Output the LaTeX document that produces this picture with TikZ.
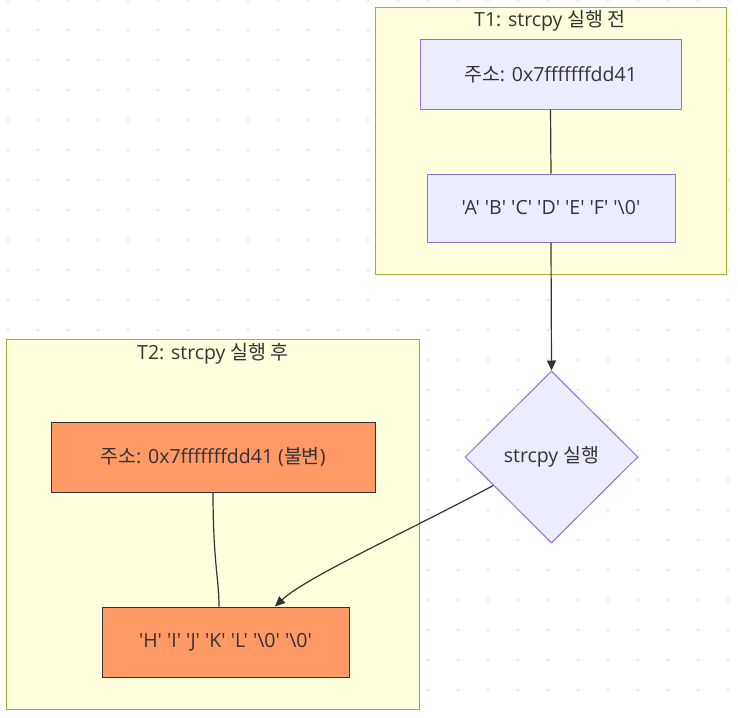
\documentclass[tikz,border=0pt]{standalone}
\usepackage{fontspec}
\setmainfont{Open Sans}[Ligatures=TeXOff]
\newfontfamily\kr{Noto Sans CJK KR}
\usetikzlibrary{shapes.geometric,arrows.meta,calc}
\definecolor{nodefill}{HTML}{ECECFF}
\definecolor{nodestroke}{HTML}{9370DB}
\definecolor{clfill}{HTML}{FFFFDE}
\definecolor{clstroke}{HTML}{AAAA33}
\definecolor{txt}{HTML}{333333}
\definecolor{orangefill}{HTML}{FF9966}
\definecolor{dotc}{HTML}{E6E6E6}
\newcommand{\qq}{\symbol{"0027}}
\tikzset{
  cluster/.style={draw=clstroke, fill=clfill, line width=1pt},
  cltitle/.style={text=txt, font=\fontsize{19.5}{23}\selectfont, inner sep=0pt},
  bluebox/.style={draw=nodestroke, fill=nodefill, line width=1pt, text=txt, font=\fontsize{19.5}{23}\selectfont, inner sep=0pt},
  orangebox/.style={draw=txt, fill=orangefill, line width=1pt, text=txt, font=\fontsize{19.5}{23}\selectfont, inner sep=0pt},
  decision/.style={diamond, aspect=1, draw=nodestroke, fill=nodefill, line width=1pt, text=txt, font=\fontsize{19.5}{23}\selectfont, inner sep=0pt, minimum width=173pt, minimum height=172pt},
  link/.style={draw=txt, line width=1.2pt},
  arrowlink/.style={link, -{Triangle[length=10pt,width=9pt]}}
}
\begin{document}
\begin{tikzpicture}[x=1pt,y=-1pt]
\useasboundingbox (0,0) rectangle (738,717);
\fill[white] (0,0) rectangle (738,717);
% background dots
\foreach \i in {0,...,24} {
  \foreach \j in {0,...,23} {
    \fill[dotc] (8+30*\i, 30*\j) circle (1.6pt);
  }
}
% clusters
\draw[cluster] (375,8) rectangle (726,274);
\node[cltitle] (t1) at (550,21) {T1: strcpy {\kr 실행 전}};
\draw[cluster] (6,339) rectangle (419,709);
\node[cltitle] (t2) at (213,354) {T2: strcpy {\kr 실행 후}};
% nodes
\node[bluebox, minimum width=261pt, minimum height=69pt] (a1) at (550.5,74.5) {{\kr 주소}: 0x7fffffffdd41};
\node[bluebox, minimum width=248pt, minimum height=68pt] (a2) at (551,208) {\qq A\qq\ \qq B\qq\ \qq C\qq\ \qq D\qq\ \qq E\qq\ \qq F\qq\ \qq\textbackslash0\qq};
\node[decision] (d) at (551.5,457) {strcpy {\kr 실행}};
\node[orangebox, minimum width=324pt, minimum height=70pt] (b1) at (213,457) {{\kr 주소}: 0x7fffffffdd41 ({\kr 불변})};
\node[orangebox, minimum width=247pt, minimum height=70pt] (b2) at (225.5,642) {\qq H\qq\ \qq I\qq\ \qq J\qq\ \qq K\qq\ \qq L\qq\ \qq\textbackslash0\qq\ \qq\textbackslash0\qq};
% edges
\draw[link] (a1.south) -- (a2.north);
\draw[arrowlink] (a2.south) -- (d.north);
\draw[link] (b1.south) .. controls +(0,68) and +(0,-27) .. ([xshift=-6.5pt]b2.north);
\draw[arrowlink] ($(d.west)!0.33!(d.south)$) .. controls (400,535) and (305,578) .. ([xshift=49.5pt]b2.north);
\end{tikzpicture}
\end{document}
